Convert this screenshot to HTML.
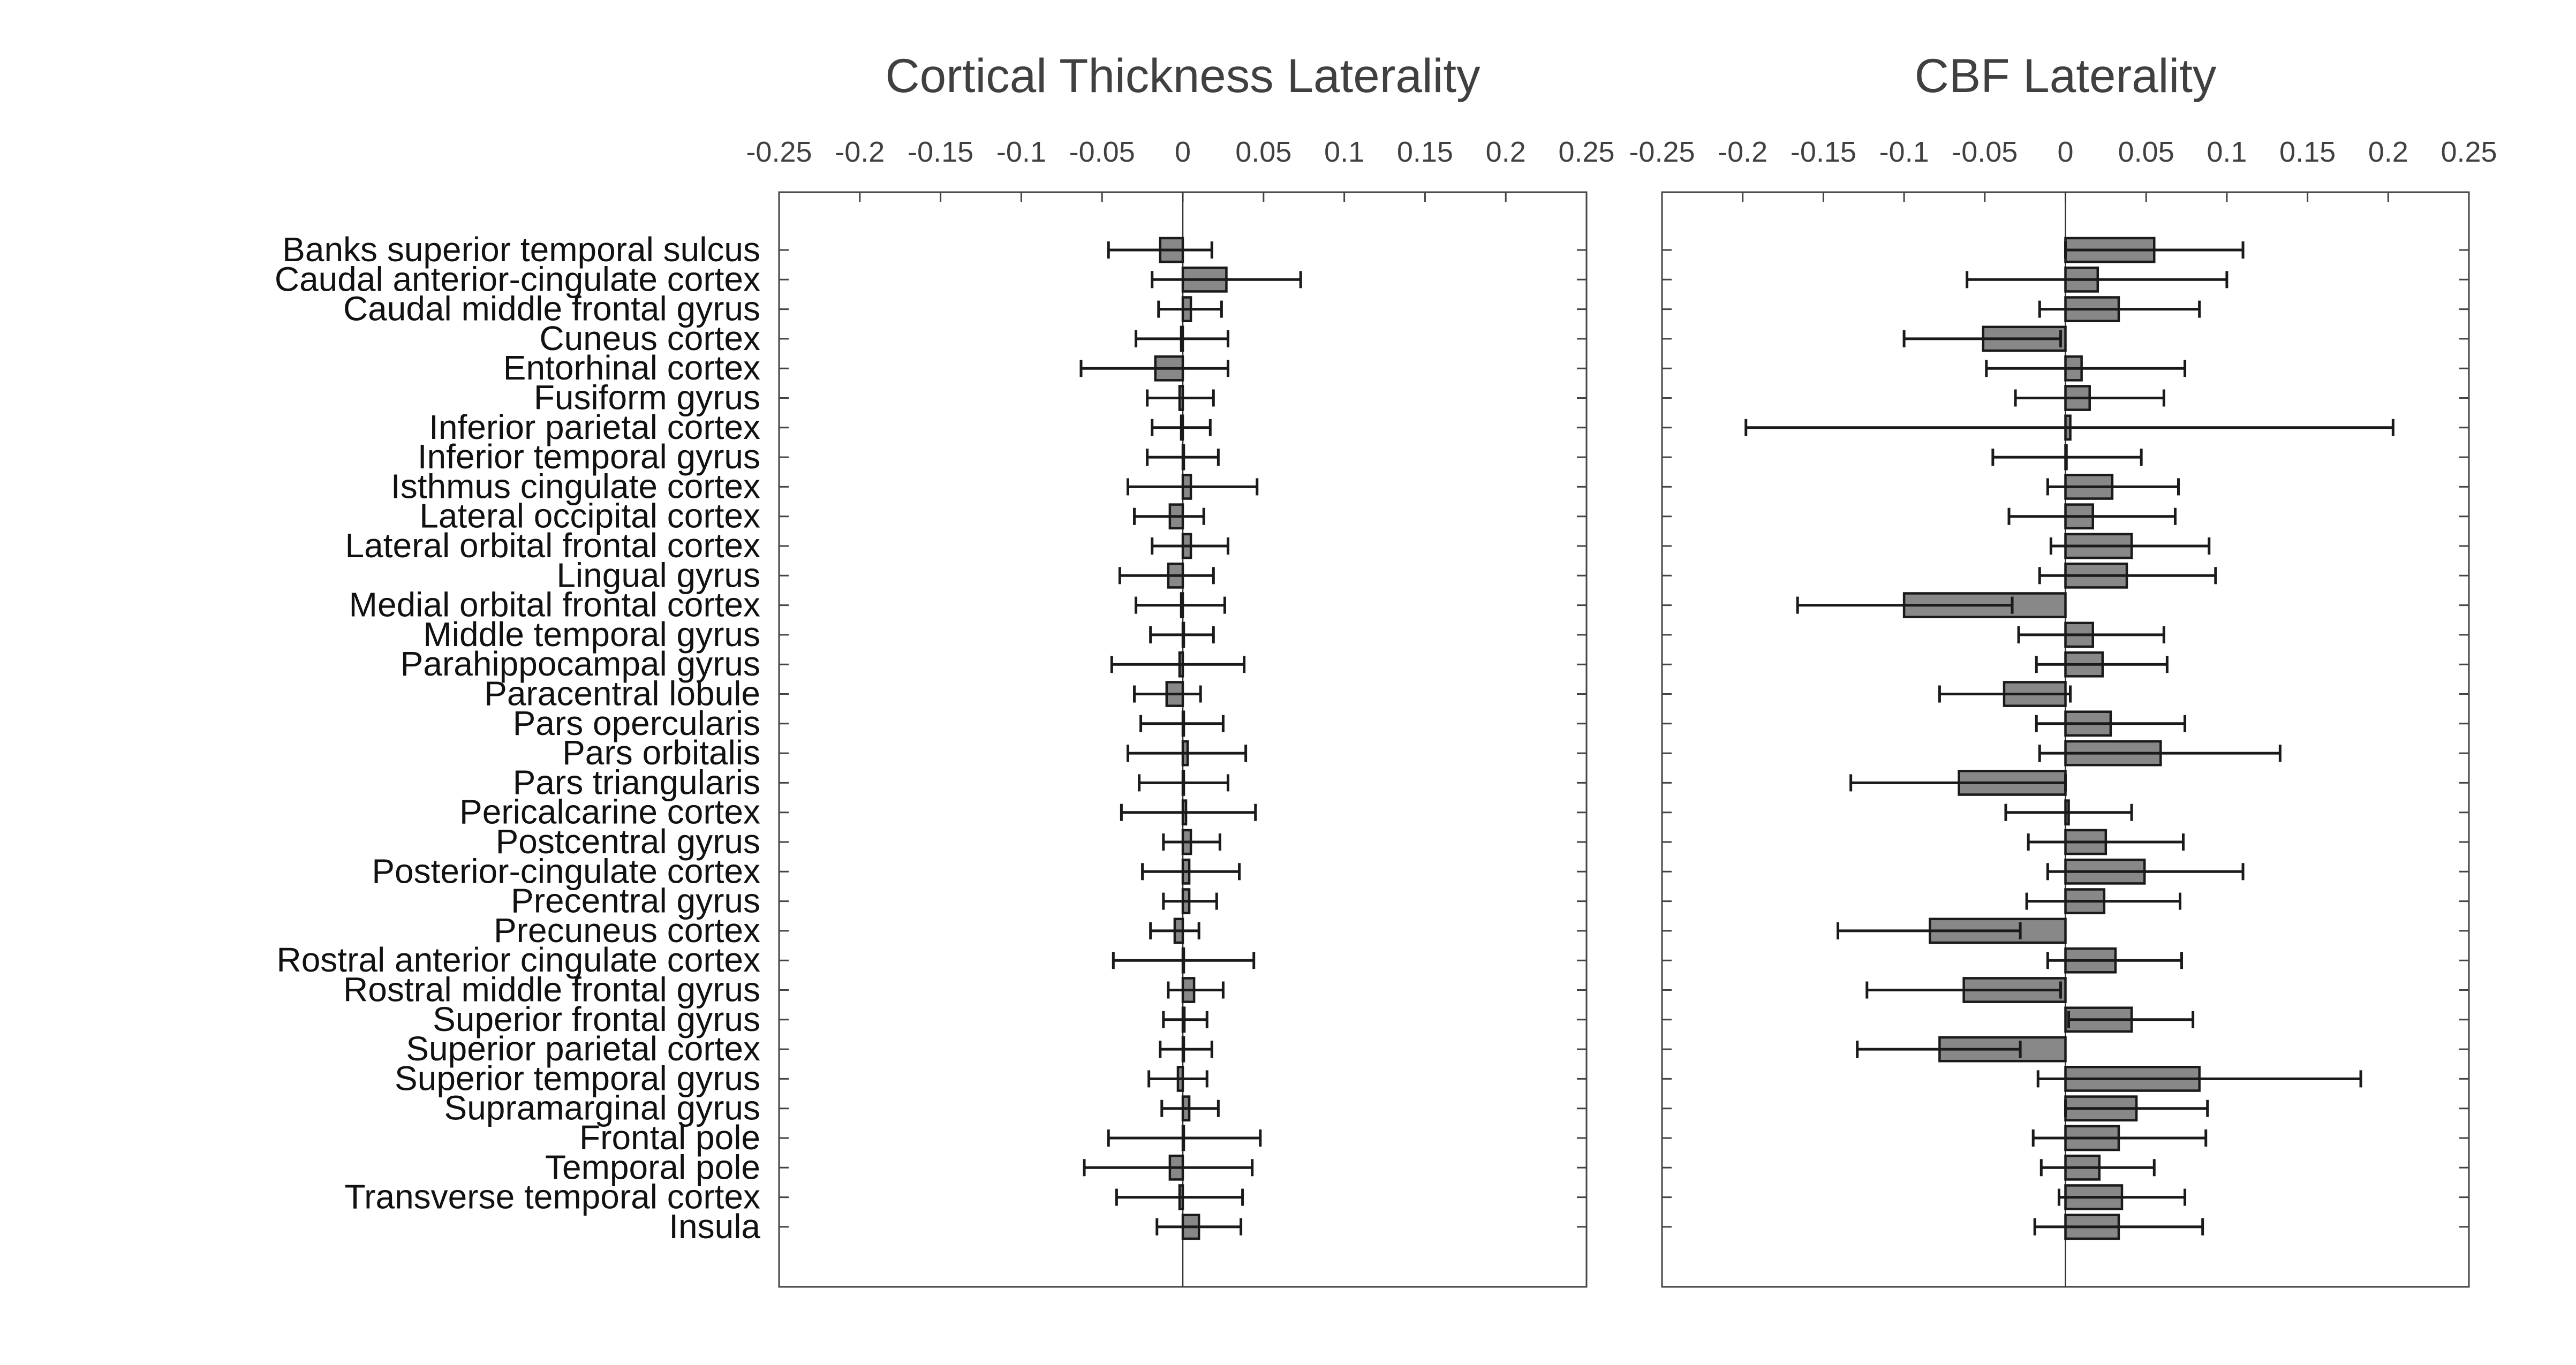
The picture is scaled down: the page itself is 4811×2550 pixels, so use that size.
<!DOCTYPE html>
<html><head><meta charset="utf-8"><style>
html,body{margin:0;padding:0;background:#fff;}
svg{display:block;}
text{font-family:"Liberation Sans",sans-serif;}
</style></head><body>
<svg id="chart" width="4811" height="2550" viewBox="0 0 4811 2550" xmlns="http://www.w3.org/2000/svg">
<rect width="4811" height="2550" fill="#fff"/>
</svg>
<script>
const regions=["Banks superior temporal sulcus","Caudal anterior-cingulate cortex","Caudal middle frontal gyrus","Cuneus cortex","Entorhinal cortex","Fusiform gyrus","Inferior parietal cortex","Inferior temporal gyrus","Isthmus cingulate cortex","Lateral occipital cortex","Lateral orbital frontal cortex","Lingual gyrus","Medial orbital frontal cortex","Middle temporal gyrus","Parahippocampal gyrus","Paracentral lobule","Pars opercularis","Pars orbitalis","Pars triangularis","Pericalcarine cortex","Postcentral gyrus","Posterior-cingulate cortex","Precentral gyrus","Precuneus cortex","Rostral anterior cingulate cortex","Rostral middle frontal gyrus","Superior frontal gyrus","Superior parietal cortex","Superior temporal gyrus","Supramarginal gyrus","Frontal pole","Temporal pole","Transverse temporal cortex","Insula"];
const xTicks=[-0.25,-0.2,-0.15,-0.1,-0.05,0,0.05,0.1,0.15,0.2,0.25];
const xTickLabels=["-0.25","-0.2","-0.15","-0.1","-0.05","0","0.05","0.1","0.15","0.2","0.25"];
const ctMean=[-0.014,0.027,0.005,-0.001,-0.017,-0.002,-0.001,0,0.005,-0.008,0.005,-0.009,-0.001,0,-0.002,-0.01,0,0.003,0,0.002,0.005,0.004,0.004,-0.005,0,0.007,0.001,0,-0.003,0.004,0,-0.008,-0.002,0.01];
const ctLo=[-0.046,-0.019,-0.015,-0.029,-0.063,-0.022,-0.019,-0.022,-0.034,-0.030,-0.019,-0.039,-0.029,-0.020,-0.044,-0.030,-0.026,-0.034,-0.027,-0.038,-0.012,-0.025,-0.012,-0.020,-0.043,-0.009,-0.012,-0.014,-0.021,-0.013,-0.046,-0.061,-0.041,-0.016];
const ctHi=[0.018,0.073,0.024,0.028,0.028,0.019,0.017,0.022,0.046,0.013,0.028,0.019,0.026,0.019,0.038,0.011,0.025,0.039,0.028,0.045,0.023,0.035,0.021,0.010,0.044,0.025,0.015,0.018,0.015,0.022,0.048,0.043,0.037,0.036];
const cbfMean=[0.055,0.020,0.033,-0.051,0.010,0.015,0.003,0,0.029,0.017,0.041,0.038,-0.100,0.017,0.023,-0.038,0.028,0.059,-0.066,0.002,0.025,0.049,0.024,-0.084,0.031,-0.063,0.041,-0.078,0.083,0.044,0.033,0.021,0.035,0.033];
const cbfLo=[0.0,-0.061,-0.016,-0.100,-0.049,-0.031,-0.198,-0.045,-0.011,-0.035,-0.009,-0.016,-0.166,-0.029,-0.018,-0.078,-0.018,-0.016,-0.133,-0.037,-0.023,-0.011,-0.024,-0.141,-0.011,-0.123,0.002,-0.129,-0.017,0.0,-0.020,-0.015,-0.004,-0.019];
const cbfHi=[0.110,0.100,0.083,-0.003,0.074,0.061,0.203,0.047,0.070,0.068,0.089,0.093,-0.033,0.061,0.063,0.003,0.074,0.133,0.0,0.041,0.073,0.110,0.071,-0.028,0.072,-0.003,0.079,-0.028,0.183,0.088,0.087,0.055,0.074,0.085];

const svgEl=document.getElementById('chart');
const NS='http://www.w3.org/2000/svg';
function mk(tag,attrs,parent){const e=document.createElementNS(NS,tag);for(const k in attrs)e.setAttribute(k,attrs[k]);(parent||svgEl).appendChild(e);return e;}
const axTop=359,axBottom=2404,row0=467,rowStep=55.3;
function yRow(i){return row0+i*rowStep;}

function panel(name,title,left,right,mean,lo,hi){
  const g=mk('g',{});
  
  
  const xs=v=>left+(v+0.25)/0.5*(right-left);
  const t=mk('text',{x:(left+right)/2,y:172,'font-size':89,fill:'#404040','text-anchor':'middle'},g);
  t.textContent=title;
  
  
  const box=mk('rect',{x:left,y:axTop,width:right-left,height:axBottom-axTop,fill:'none',stroke:'#444','stroke-width':3},g);
  
  
  xTicks.forEach((v,k)=>{
    const x=xs(v);
    const tk=mk('line',{x1:x,x2:x,y1:axTop,y2:axTop+18,stroke:'#444','stroke-width':3},g);
    
    
    const lb=mk('text',{x:x,y:302,'font-size':54,fill:'#404040','text-anchor':'middle'},g);
    lb.textContent=xTickLabels[k];
    
    
  });
  const zl=mk('line',{x1:xs(0),x2:xs(0),y1:axTop,y2:axBottom,stroke:'#333','stroke-width':2.5},g);
  
  
  regions.forEach((r,i)=>{
    const y=yRow(i);
    const a=mk('line',{x1:left,x2:left+18,y1:y,y2:y,stroke:'#444','stroke-width':3},g);
    
    
    const b=mk('line',{x1:right-18,x2:right,y1:y,y2:y,stroke:'#444','stroke-width':3},g);
    
    
    const x0=xs(0),x1=xs(mean[i]);
    const h=rowStep*0.8;
    const bar=mk('rect',{x:Math.min(x0,x1),y:y-h/2,width:Math.max(Math.abs(x1-x0),2),height:h,fill:'#888',stroke:'#1a1a1a','stroke-width':4.5},g);
    
    
    const el=mk('line',{x1:xs(lo[i]),x2:xs(hi[i]),y1:y,y2:y,stroke:'#1a1a1a','stroke-width':5},g);
    
    
    [lo[i],hi[i]].forEach(v=>{
      const c=mk('line',{x1:xs(v),x2:xs(v),y1:y-16,y2:y+16,stroke:'#1a1a1a','stroke-width':5},g);
      
      
    });
  });
}
panel('cortical-thickness','Cortical Thickness Laterality',1455,2963,ctMean,ctLo,ctHi);
panel('cbf','CBF Laterality',3104,4611,cbfMean,cbfLo,cbfHi);
regions.forEach((r,i)=>{
  const t=mk('text',{x:1420,y:yRow(i)+21,'font-size':64,fill:'#111','text-anchor':'end'});
  t.textContent=r;
  
  
});
</script>
</body></html>
